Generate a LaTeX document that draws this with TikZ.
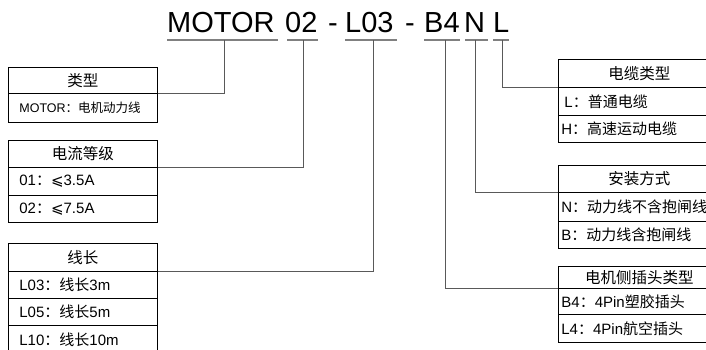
\documentclass[tikz,border=0pt]{standalone}
\usepackage{fontspec}
\setmainfont{Liberation Sans}
\newfontfamily\cjk{Noto Sans CJK SC}
\newfontfamily\symfont{DejaVu Sans}
\begin{document}
\begin{tikzpicture}[x=1pt,y=-1pt,
  title/.style={anchor=base west,inner sep=0,font=\fontsize{29}{32}\selectfont},
  uline/.style={draw=black!50,line width=1.4pt},
  conn/.style={draw=black!65,line width=0.9pt},
  lhead/.style={draw=black,line width=0.8pt,anchor=north west,inner xsep=0,inner ysep=0,
     text width=149pt,align=center,font=\fontsize{15.5}{17}\selectfont\cjk},
  lrow/.style={draw=black,line width=0.8pt,anchor=north west,inner xsep=11pt,inner ysep=0,
     text width=127pt,align=left,font=\fontsize{15}{17}\selectfont},
  rhead/.style={draw=black,line width=0.8pt,anchor=north west,inner xsep=0,inner ysep=0,
     text width=162pt,align=center,font=\fontsize{15.5}{17}\selectfont\cjk},
  rrow/.style={draw=black,line width=0.8pt,anchor=north west,inner xsep=3pt,inner ysep=0,
     text width=156pt,align=left,font=\fontsize{15}{17}\selectfont}
]
\clip (0,0) rectangle (706,350);
% title
\node[title] (wMotor) at (167,33) {MOTOR};
\node[title] (w02) at (285,33) {02};
\node[title] (d1) at (328,33) {-};
\node[title] (wL03) at (345,33) {L03};
\node[title] (d2) at (405,33) {-};
\node[title] (wB4) at (424,33) {B4};
\node[title] (wN) at (464,33) {N};
\node[title] (wL) at (493,33) {L};
% underlines
\draw[uline] (167,40) -- (278,40);
\draw[uline] (287,40) -- (318,40);
\draw[uline] (345,40) -- (397,40);
\draw[uline] (424,40) -- (460,40);
\draw[uline] (465,40) -- (488,40);
\draw[uline] (493,40) -- (509,40);
\coordinate (tMotor) at (224,40);
\coordinate (t02) at (303,40);
\coordinate (tL03) at (373,40);
\coordinate (tB4) at (445,40);
\coordinate (tN) at (475,40);
\coordinate (tL) at (502,40);
% left boxes
\node[lhead,minimum height=26pt] (h1) at (8,67) {类型};
\node[lrow,minimum height=29pt,font=\fontsize{12.5}{14}\selectfont] (r1a) at (8,93) {MOTOR{\cjk ：电机动力线}};
\node[lhead,minimum height=27pt] (h2) at (8,140) {电流等级};
\node[lrow,minimum height=28pt] (r2a) at (8,167) {01{\cjk ：}{\symfont ⩽}3.5A};
\node[lrow,minimum height=27pt] (r2b) at (8,195) {02{\cjk ：}{\symfont ⩽}7.5A};
\node[lhead,minimum height=28pt] (h3) at (8,243) {线长};
\node[lrow,minimum height=27pt] (r3a) at (8,271) {L03{\cjk ：线长}3m};
\node[lrow,minimum height=27pt] (r3b) at (8,298) {L05{\cjk ：线长}5m};
\node[lrow,minimum height=28pt] (r3c) at (8,325) {L10{\cjk ：线长}10m};
% right boxes
\node[rhead,minimum height=28pt] (hA) at (558,59) {电缆类型};
\node[rrow,minimum height=28pt] (rAa) at (558,87) {\hspace*{3pt}L{\cjk ：普通电缆}};
\node[rrow,minimum height=27pt] (rAb) at (558,115) {H{\cjk ：高速运动电缆}};
\node[rhead,minimum height=27pt] (hB) at (558,165) {安装方式};
\node[rrow,minimum height=29pt] (rBa) at (558,192) {N{\cjk ：动力线不含抱闸线}};
\node[rrow,minimum height=27pt] (rBb) at (558,221) {B{\cjk ：动力线含抱闸线}};
\node[rhead,minimum height=22pt] (hC) at (558,266) {电机侧插头类型};
\node[rrow,minimum height=26pt] (rCa) at (558,288) {B4{\cjk ：}4Pin{\cjk 塑胶插头}};
\node[rrow,minimum height=28pt] (rCb) at (558,314) {L4{\cjk ：}4Pin{\cjk 航空插头}};
% connectors
\draw[conn] (tMotor) |- (h1.south east);
\draw[conn] (t02) |- (h2.south east);
\draw[conn] (tL03) |- (h3.south east);
\draw[conn] (tB4) |- (hC.south west);
\draw[conn] (tN) |- (hB.south west);
\draw[conn] (tL) |- (hA.south west);
\end{tikzpicture}
\end{document}
